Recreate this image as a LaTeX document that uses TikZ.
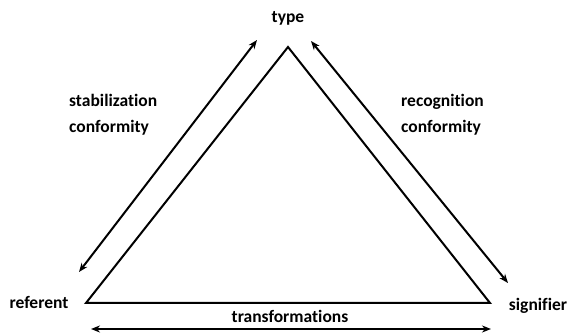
\documentclass[tikz,border=0pt]{standalone}
\usepackage{fontspec}
\setmainfont{Carlito}[Ligatures={NoCommon}]
\usetikzlibrary{arrows.meta}
\begin{document}
\begin{tikzpicture}[x=1pt,y=-1pt,
  lbl/.style={font=\bfseries\fontsize{17.5}{26}\selectfont, inner sep=0pt},
  tri/.style={line width=2pt, line join=miter},
  dbl/.style={line width=2pt, {Stealth[length=9pt,width=7pt]}-{Stealth[length=9pt,width=7pt]}}]
\useasboundingbox (0,0) rectangle (574,334);
\coordinate (A) at (288,47);
\coordinate (B) at (86,303);
\coordinate (C) at (490,303);
\draw[tri] (A) -- (B) -- (C) -- cycle;
\node[lbl] (type) at (288,18) {type};
\node[lbl] (ref) at (39,302) {referent};
\node[lbl] (sig) at (538,306) {signifier};
\node[lbl] (trans) at (290,316) {transformations};
\node[lbl, align=left, anchor=west] (stab) at (69,115) {stabilization\\conformity};
\node[lbl, align=left, anchor=west] (rec) at (401,115) {recognition\\conformity};
\coordinate (l1) at (257,40);
\coordinate (l2) at (79,272);
\coordinate (r1) at (311,41);
\coordinate (r2) at (508,283);
\coordinate (b1) at (91,329);
\coordinate (b2) at (491,329);
\draw[dbl] (l1) -- (l2);
\draw[dbl] (r1) -- (r2);
\draw[dbl] (b1) -- (b2);
\end{tikzpicture}
\end{document}
